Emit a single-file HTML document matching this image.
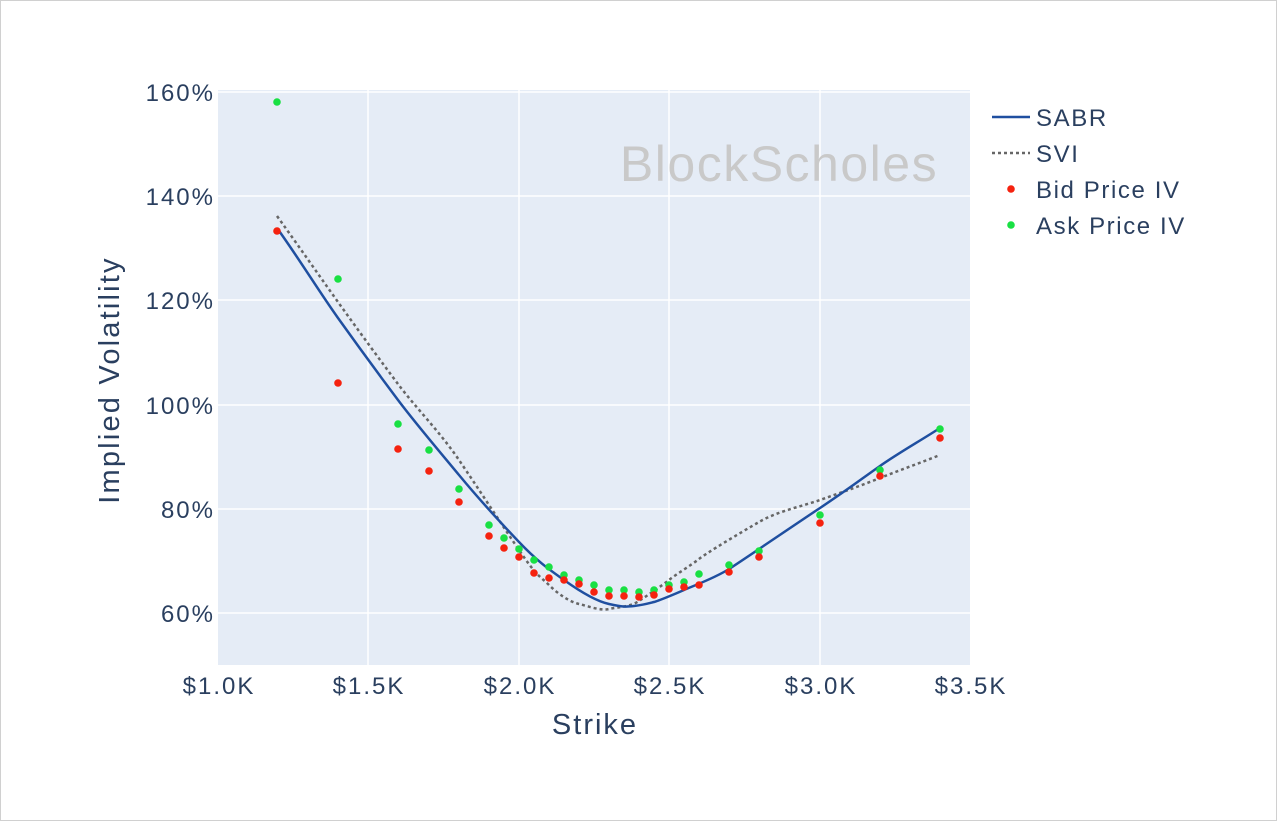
<!DOCTYPE html>
<html><head><style>
html,body{margin:0;padding:0;background:#fff;}
svg{display:block;font-family:"Liberation Sans",sans-serif;}
</style></head><body>
<svg width="1277" height="821" viewBox="0 0 1277 821" xmlns="http://www.w3.org/2000/svg">
<rect x="0.5" y="0.5" width="1276" height="820" fill="#fff" stroke="#d0d0d0"/>
<rect x="218" y="90" width="752" height="575" fill="#e5ecf6"/>
<g stroke="#fff" stroke-width="1.5">
<line x1="368" y1="90" x2="368" y2="665"/><line x1="519" y1="90" x2="519" y2="665"/>
<line x1="669" y1="90" x2="669" y2="665"/><line x1="820" y1="90" x2="820" y2="665"/>
<line x1="218" y1="92" x2="970" y2="92"/><line x1="218" y1="196" x2="970" y2="196"/>
<line x1="218" y1="300" x2="970" y2="300"/><line x1="218" y1="405" x2="970" y2="405"/>
<line x1="218" y1="509" x2="970" y2="509"/><line x1="218" y1="613" x2="970" y2="613"/>
</g>
<text x="779" y="181" font-size="50" letter-spacing="1.5" fill="#c9c9c9" text-anchor="middle">BlockScholes</text>
<g font-size="24" letter-spacing="2" fill="#2a3f5f" text-anchor="end">
<text x="215" y="101">160%</text><text x="215" y="205">140%</text><text x="215" y="309">120%</text>
<text x="215" y="414">100%</text><text x="215" y="518">80%</text><text x="215" y="622">60%</text>
</g>
<g font-size="24" letter-spacing="2" fill="#2a3f5f" text-anchor="middle">
<text x="219" y="694">$1.0K</text><text x="369" y="694">$1.5K</text><text x="520" y="694">$2.0K</text>
<text x="670" y="694">$2.5K</text><text x="821" y="694">$3.0K</text><text x="971" y="694">$3.5K</text>
</g>
<text x="595" y="734" font-size="29" letter-spacing="2" fill="#2a3f5f" text-anchor="middle">Strike</text>
<text transform="translate(119,380) rotate(-90)" font-size="29" letter-spacing="2.2" fill="#2a3f5f" text-anchor="middle">Implied Volatility</text>
<path d="M277,216 C300,248 318,274 338,302 S380,360 398,384 S440,432 459,460 S500,522 519,550 S540,576 549,585 S570,602 579,604 S600,611 609,609 S630,607 639,601 S660,587 669,580 S690,566 699,559 S740,533 759,522 S800,507 820,500 S860,486 880,478 S920,463 940,455" fill="none" stroke="#666" stroke-width="2.5" stroke-dasharray="3,3"/>
<path d="M277,228 C300,260 318,290 338,318 S380,376 398,400 S440,452 459,475 S500,522 519,542 S550,570 564,580 S595,601 609,604 S625,607 634,606 S650,603 654,602 S675,594 684,590 S715,578 729,569 S790,528 820,508 S860,480 880,466 S920,441 940,428" fill="none" stroke="#1f4fa0" stroke-width="2.5"/>
<g fill="#19e043">
<circle cx="277" cy="102" r="3.8"/><circle cx="338" cy="279" r="3.8"/><circle cx="398" cy="424" r="3.8"/><circle cx="429" cy="450" r="3.8"/><circle cx="459" cy="489" r="3.8"/><circle cx="489" cy="525" r="3.8"/><circle cx="504" cy="538" r="3.8"/><circle cx="519" cy="549" r="3.8"/><circle cx="534" cy="560" r="3.8"/><circle cx="549" cy="567" r="3.8"/><circle cx="564" cy="575" r="3.8"/><circle cx="579" cy="580" r="3.8"/><circle cx="594" cy="585" r="3.8"/><circle cx="609" cy="590" r="3.8"/><circle cx="624" cy="590" r="3.8"/><circle cx="639" cy="592" r="3.8"/><circle cx="654" cy="590" r="3.8"/><circle cx="669" cy="585" r="3.8"/><circle cx="684" cy="582" r="3.8"/><circle cx="699" cy="574" r="3.8"/><circle cx="729" cy="565" r="3.8"/><circle cx="759" cy="551" r="3.8"/><circle cx="820" cy="515" r="3.8"/><circle cx="880" cy="470" r="3.8"/><circle cx="940" cy="429" r="3.8"/>
</g>
<g fill="#f5220f">
<circle cx="277" cy="231" r="3.8"/><circle cx="338" cy="383" r="3.8"/><circle cx="398" cy="449" r="3.8"/><circle cx="429" cy="471" r="3.8"/><circle cx="459" cy="502" r="3.8"/><circle cx="489" cy="536" r="3.8"/><circle cx="504" cy="548" r="3.8"/><circle cx="519" cy="557" r="3.8"/><circle cx="534" cy="573" r="3.8"/><circle cx="549" cy="578" r="3.8"/><circle cx="564" cy="580" r="3.8"/><circle cx="579" cy="584" r="3.8"/><circle cx="594" cy="592" r="3.8"/><circle cx="609" cy="596" r="3.8"/><circle cx="624" cy="596" r="3.8"/><circle cx="639" cy="597" r="3.8"/><circle cx="654" cy="595" r="3.8"/><circle cx="669" cy="589" r="3.8"/><circle cx="684" cy="587" r="3.8"/><circle cx="699" cy="585" r="3.8"/><circle cx="729" cy="572" r="3.8"/><circle cx="759" cy="557" r="3.8"/><circle cx="820" cy="523" r="3.8"/><circle cx="880" cy="476" r="3.8"/><circle cx="940" cy="438" r="3.8"/>
</g>
<line x1="992" y1="117" x2="1030" y2="117" stroke="#1f4fa0" stroke-width="2.5"/>
<line x1="992" y1="153" x2="1030" y2="153" stroke="#666" stroke-width="2.5" stroke-dasharray="3,3"/>
<circle cx="1011" cy="189" r="3.8" fill="#f5220f"/>
<circle cx="1011" cy="225" r="3.8" fill="#19e043"/>
<g font-size="24" letter-spacing="1.6" fill="#2a3f5f">
<text x="1036" y="126">SABR</text><text x="1036" y="162">SVI</text>
<text x="1036" y="198">Bid Price IV</text><text x="1036" y="234">Ask Price IV</text>
</g>
</svg>
</body></html>
